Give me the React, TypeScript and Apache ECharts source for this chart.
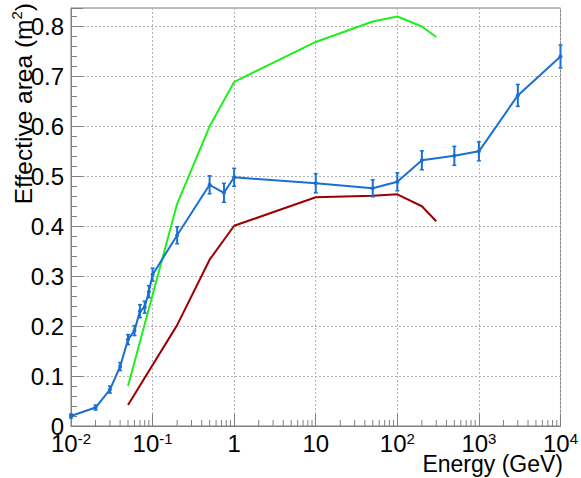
import React, { useEffect, useRef } from "react";
import * as echarts from "echarts";

const blueEnergy = [0.01, 0.02, 0.03, 0.04, 0.05, 0.06, 0.07, 0.08, 0.09, 0.1, 0.2, 0.5, 0.75, 1, 10, 50, 100, 200, 500, 1000, 3000, 10000];
const blueArea = [0.020, 0.037, 0.073, 0.119, 0.173, 0.191, 0.230, 0.238, 0.269, 0.303, 0.382, 0.483, 0.467, 0.498, 0.486, 0.476, 0.489, 0.532, 0.541, 0.550, 0.662, 0.740];
const blueErr = [0.004, 0.005, 0.007, 0.008, 0.010, 0.010, 0.013, 0.012, 0.012, 0.013, 0.017, 0.018, 0.019, 0.018, 0.019, 0.017, 0.018, 0.019, 0.019, 0.019, 0.022, 0.023];

const greenEnergy = [0.05, 0.2, 0.5, 1, 10, 50, 100, 200, 300];
const greenArea = [0.080, 0.445, 0.600, 0.689, 0.769, 0.810, 0.820, 0.800, 0.779];

const redEnergy = [0.05, 0.2, 0.5, 1, 10, 50, 100, 200, 300];
const redArea = [0.042, 0.202, 0.333, 0.401, 0.458, 0.461, 0.464, 0.440, 0.410];

const xMinorTicks = [
  0.02, 0.03, 0.04, 0.05, 0.06, 0.07, 0.08, 0.09,
  0.2, 0.3, 0.4, 0.5, 0.6, 0.7, 0.8, 0.9,
  2, 3, 4, 5, 6, 7, 8, 9,
  20, 30, 40, 50, 60, 70, 80, 90,
  200, 300, 400, 500, 600, 700, 800, 900,
  2000, 3000, 4000, 5000, 6000, 7000, 8000, 9000,
];

const FONT = "'Liberation Sans', Arial, Helvetica, sans-serif";
const BLUE = "#1a6fd2";
const GREEN = "#1ef01e";
const RED = "#9c0000";
const AXIS = "#808080";

export default function App() {
  const ref = useRef<HTMLDivElement>(null);
  useEffect(() => {
    if (!ref.current) return;
    const chart = echarts.init(ref.current, undefined, { renderer: "svg" });
    const pair = (xs: number[], ys: number[]) => xs.map((x, i) => [x, ys[i]]);
    const option: any = {
      animation: false,
      backgroundColor: "#ffffff",
      grid: {
        left: 71, right: 15, top: 8, bottom: 52,
        show: true, borderColor: AXIS, borderWidth: 1, backgroundColor: "transparent",
      },
      xAxis: {
        type: "log", logBase: 10, min: 0.01, max: 10000, splitNumber: 6,
        axisLine: { show: true, onZero: false, lineStyle: { color: AXIS, width: 1 } },
        axisTick: { show: true, inside: true, length: 12, lineStyle: { color: AXIS } },
        minorTick: { show: false },
        splitLine: { show: true, lineStyle: { color: "#b4b4b4", type: [2, 2], width: 1 } },
        axisLabel: {
          margin: 11,
          color: "#000",
          fontFamily: FONT,
          formatter: (v: number) => {
            const k = Math.round(Math.log10(v));
            if (k === 0) return "{b|1}";
            if (k === 1) return "{b|10}";
            return "{b|10}{s|" + k + "}";
          },
          rich: {
            b: { fontSize: 24, lineHeight: 18, fontFamily: FONT, color: "#000", verticalAlign: "bottom" },
            s: { fontSize: 15, lineHeight: 12, fontFamily: FONT, color: "#000", verticalAlign: "bottom", padding: [0, 0, 9, 0] },
          },
        },
      },
      yAxis: {
        type: "value", min: 0, max: 0.837, interval: 0.1,
        axisLine: { show: true, lineStyle: { color: AXIS, width: 1 } },
        axisTick: { show: true, inside: true, length: 12, lineStyle: { color: AXIS } },
        minorTick: { show: true, splitNumber: 5, length: 6, lineStyle: { color: AXIS } },
        splitLine: { show: true, lineStyle: { color: "#b4b4b4", type: [2, 2], width: 1 } },
        axisLabel: {
          margin: 7,
          color: "#000",
          fontSize: 24,
          lineHeight: 18,
          fontFamily: FONT,
          showMaxLabel: false,
          formatter: (v: number) => {
            if (v === 0) return "0";
            if (v > 0.8001) return "";
            return v.toFixed(1);
          },
        },
      },
      series: [
        {
          type: "custom",
          silent: true,
          data: xMinorTicks.map((v) => [v, 0]),
          encode: { x: 0, y: 1 },
          renderItem: (params: any, api: any) => {
            const p = api.coord([api.value(0), 0]);
            return {
              type: "line",
              shape: { x1: p[0], y1: p[1], x2: p[0], y2: p[1] - 6 },
              style: { stroke: AXIS, lineWidth: 1 },
            };
          },
          z: 1,
        },
        {
          type: "line",
          data: pair(redEnergy, redArea),
          symbol: "none",
          lineStyle: { color: RED, width: 2 },
          z: 2,
        },
        {
          type: "line",
          data: pair(greenEnergy, greenArea),
          symbol: "none",
          lineStyle: { color: GREEN, width: 2 },
          z: 3,
        },
        {
          type: "line",
          data: pair(blueEnergy, blueArea),
          symbol: "circle",
          symbolSize: 4,
          itemStyle: { color: BLUE },
          lineStyle: { color: BLUE, width: 2 },
          z: 4,
        },
        {
          type: "custom",
          silent: true,
          data: blueEnergy.map((e, i) => [e, blueArea[i], blueErr[i]]),
          encode: { x: 0, y: 1 },
          renderItem: (params: any, api: any) => {
            const x = api.value(0);
            const y = api.value(1);
            const e = api.value(2);
            const hi = api.coord([x, y + e]);
            const lo = api.coord([x, y - e]);
            const cx = hi[0];
            return {
              type: "group",
              children: [
                { type: "line", shape: { x1: cx, y1: hi[1], x2: cx, y2: lo[1] }, style: { stroke: BLUE, lineWidth: 2 } },
                { type: "line", shape: { x1: cx - 2, y1: hi[1], x2: cx + 2, y2: hi[1] }, style: { stroke: BLUE, lineWidth: 1.5 } },
                { type: "line", shape: { x1: cx - 2, y1: lo[1], x2: cx + 2, y2: lo[1] }, style: { stroke: BLUE, lineWidth: 1.5 } },
              ],
            };
          },
          z: 5,
        },
      ],
      graphic: [
        {
          type: "text",
          x: 22,
          y: 3,
          rotation: Math.PI / 2,
          style: {
            text: "{a|Effective area (m}{s|2}{a|)}",
            align: "right",
            verticalAlign: "middle",
            rich: {
              a: { fontSize: 24.5, fontFamily: FONT, fill: "#000", verticalAlign: "bottom" },
              s: { fontSize: 15, fontFamily: FONT, fill: "#000", verticalAlign: "bottom", padding: [0, 0, 12, 0] },
            },
          },
        },
        {
          type: "text",
          x: 563,
          y: 464,
          style: {
            text: "Energy (GeV)",
            fontSize: 23,
            lineHeight: 18,
            fontFamily: FONT,
            fill: "#000",
            align: "right",
            verticalAlign: "middle",
          },
        },
      ],
    };
    chart.setOption(option);
    return () => chart.dispose();
  }, []);
  return (
    <div
      ref={ref}
      style={{ position: "absolute", left: 0, top: 0, width: 581, height: 478, background: "#fff" }}
    />
  );
}
